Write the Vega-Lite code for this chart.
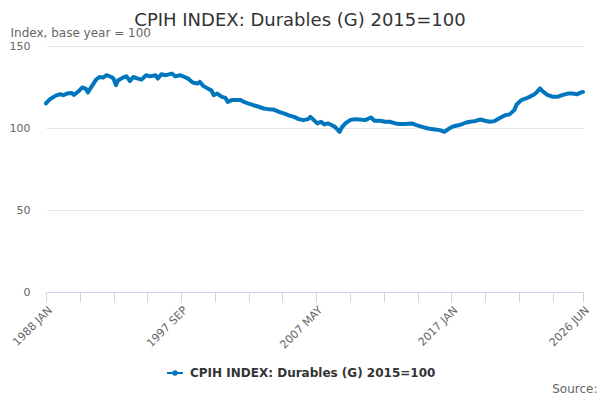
{
  "$schema": "https://vega.github.io/schema/vega-lite/v6.json",
  "width": 537,
  "height": 246,
  "autosize": {"type": "none"},
  "padding": {"left": 46, "top": 46, "right": 17, "bottom": 108},
  "background": "white",
  "config": {"view": {"stroke": null}, "font": "DejaVu Sans"},
  "title": {
    "text": "CPIH INDEX: Durables (G) 2015=100",
    "anchor": "middle",
    "frame": "group",
    "dx": -14.5,
    "dy": 21,
    "baseline": "alphabetic",
    "offset": 3,
    "fontSize": 18,
    "fontWeight": "normal",
    "color": "#333333",
    "font": "DejaVu Sans"
  },
  "data": {
    "values": [
      {"d": "1988-01-01", "v": 115.0},
      {"d": "1988-04-01", "v": 117.4},
      {"d": "1988-09-01", "v": 119.6},
      {"d": "1989-01-01", "v": 120.6},
      {"d": "1989-04-01", "v": 120.0},
      {"d": "1989-07-01", "v": 121.0},
      {"d": "1989-11-01", "v": 121.4},
      {"d": "1990-01-01", "v": 120.2},
      {"d": "1990-05-01", "v": 122.4},
      {"d": "1990-08-01", "v": 124.7},
      {"d": "1990-11-01", "v": 124.0},
      {"d": "1991-01-01", "v": 121.6},
      {"d": "1991-04-01", "v": 125.1},
      {"d": "1991-08-01", "v": 129.5},
      {"d": "1991-11-01", "v": 131.1},
      {"d": "1992-02-01", "v": 130.7},
      {"d": "1992-05-01", "v": 132.2},
      {"d": "1992-09-01", "v": 131.1},
      {"d": "1992-11-01", "v": 130.1},
      {"d": "1993-01-01", "v": 126.1},
      {"d": "1993-03-01", "v": 129.1},
      {"d": "1993-07-01", "v": 130.7},
      {"d": "1993-10-01", "v": 131.5},
      {"d": "1994-01-01", "v": 128.7},
      {"d": "1994-04-01", "v": 131.1},
      {"d": "1994-08-01", "v": 130.1},
      {"d": "1994-11-01", "v": 129.5},
      {"d": "1995-03-01", "v": 132.2},
      {"d": "1995-06-01", "v": 131.5},
      {"d": "1995-11-01", "v": 132.2},
      {"d": "1996-01-01", "v": 130.1},
      {"d": "1996-04-01", "v": 132.8},
      {"d": "1996-08-01", "v": 132.2},
      {"d": "1997-01-01", "v": 133.2},
      {"d": "1997-04-01", "v": 131.5},
      {"d": "1997-08-01", "v": 132.2},
      {"d": "1997-12-01", "v": 131.1},
      {"d": "1998-03-01", "v": 130.1},
      {"d": "1998-07-01", "v": 127.7},
      {"d": "1998-11-01", "v": 127.1},
      {"d": "1999-01-01", "v": 128.1},
      {"d": "1999-04-01", "v": 125.7},
      {"d": "1999-09-01", "v": 123.6},
      {"d": "1999-11-01", "v": 123.0},
      {"d": "2000-01-01", "v": 120.0},
      {"d": "2000-04-01", "v": 121.0},
      {"d": "2000-08-01", "v": 119.0},
      {"d": "2000-11-01", "v": 118.4},
      {"d": "2001-01-01", "v": 115.9},
      {"d": "2001-05-01", "v": 117.1},
      {"d": "2001-09-01", "v": 117.0},
      {"d": "2001-12-01", "v": 117.1},
      {"d": "2002-03-01", "v": 115.9},
      {"d": "2002-07-01", "v": 114.9},
      {"d": "2002-11-01", "v": 113.9},
      {"d": "2003-03-01", "v": 113.1},
      {"d": "2003-08-01", "v": 111.9},
      {"d": "2003-12-01", "v": 111.5},
      {"d": "2004-04-01", "v": 111.3},
      {"d": "2004-09-01", "v": 109.8},
      {"d": "2005-01-01", "v": 108.9},
      {"d": "2005-05-01", "v": 107.8},
      {"d": "2005-10-01", "v": 106.8},
      {"d": "2006-02-01", "v": 105.4},
      {"d": "2006-06-01", "v": 104.8},
      {"d": "2006-10-01", "v": 105.4},
      {"d": "2006-12-01", "v": 106.8},
      {"d": "2007-03-01", "v": 104.8},
      {"d": "2007-06-01", "v": 102.8},
      {"d": "2007-09-01", "v": 103.8},
      {"d": "2007-12-01", "v": 102.2},
      {"d": "2008-03-01", "v": 102.8},
      {"d": "2008-06-01", "v": 101.8},
      {"d": "2008-09-01", "v": 100.7},
      {"d": "2009-01-01", "v": 97.7},
      {"d": "2009-03-01", "v": 100.4},
      {"d": "2009-06-01", "v": 102.8},
      {"d": "2009-10-01", "v": 104.8},
      {"d": "2010-02-01", "v": 105.4},
      {"d": "2010-06-01", "v": 105.2},
      {"d": "2010-11-01", "v": 104.8},
      {"d": "2011-04-01", "v": 106.4},
      {"d": "2011-07-01", "v": 104.4},
      {"d": "2011-12-01", "v": 104.4},
      {"d": "2012-04-01", "v": 103.8},
      {"d": "2012-08-01", "v": 103.8},
      {"d": "2013-01-01", "v": 102.8},
      {"d": "2013-05-01", "v": 102.4},
      {"d": "2013-09-01", "v": 102.4},
      {"d": "2014-03-01", "v": 102.8},
      {"d": "2014-07-01", "v": 101.8},
      {"d": "2014-12-01", "v": 100.7},
      {"d": "2015-05-01", "v": 99.7},
      {"d": "2015-11-01", "v": 99.1},
      {"d": "2016-03-01", "v": 98.7},
      {"d": "2016-07-01", "v": 97.7},
      {"d": "2016-10-01", "v": 99.1},
      {"d": "2016-12-01", "v": 100.1},
      {"d": "2017-03-01", "v": 101.1},
      {"d": "2017-08-01", "v": 101.8},
      {"d": "2018-01-01", "v": 103.2},
      {"d": "2018-05-01", "v": 103.8},
      {"d": "2018-09-01", "v": 104.2},
      {"d": "2019-02-01", "v": 105.2},
      {"d": "2019-06-01", "v": 104.4},
      {"d": "2019-10-01", "v": 103.8},
      {"d": "2020-02-01", "v": 104.2},
      {"d": "2020-07-01", "v": 106.2},
      {"d": "2020-11-01", "v": 107.8},
      {"d": "2021-03-01", "v": 108.3},
      {"d": "2021-07-01", "v": 110.9},
      {"d": "2021-09-01", "v": 114.3},
      {"d": "2022-01-01", "v": 117.0},
      {"d": "2022-05-01", "v": 118.0},
      {"d": "2022-08-01", "v": 119.0},
      {"d": "2022-12-01", "v": 120.4},
      {"d": "2023-02-01", "v": 121.6},
      {"d": "2023-05-01", "v": 124.1},
      {"d": "2023-08-01", "v": 122.0},
      {"d": "2023-11-01", "v": 120.4},
      {"d": "2024-04-01", "v": 119.0},
      {"d": "2024-08-01", "v": 119.0},
      {"d": "2024-12-01", "v": 120.0},
      {"d": "2025-05-01", "v": 121.0},
      {"d": "2025-09-01", "v": 121.0},
      {"d": "2026-01-01", "v": 120.6},
      {"d": "2026-04-01", "v": 121.6},
      {"d": "2026-06-01", "v": 122.0}
    ]
  },
  "mark": {"type": "line", "strokeWidth": 4, "strokeJoin": "round", "strokeCap": "round"},
  "encoding": {
    "x": {
      "field": "d",
      "type": "temporal",
      "scale": {
        "type": "utc",
        "nice": false,
        "domain": [
          {"year": 1988, "month": 1, "date": 1, "utc": true},
          {"year": 2026, "month": 6, "date": 1, "utc": true}
        ]
      },
      "axis": {
        "values": [
          {"year": 1988, "month": 1, "date": 1, "utc": true},
          {"year": 1990, "month": 6, "date": 1, "utc": true},
          {"year": 1992, "month": 11, "date": 1, "utc": true},
          {"year": 1995, "month": 4, "date": 1, "utc": true},
          {"year": 1997, "month": 9, "date": 1, "utc": true},
          {"year": 2000, "month": 2, "date": 1, "utc": true},
          {"year": 2002, "month": 7, "date": 1, "utc": true},
          {"year": 2004, "month": 12, "date": 1, "utc": true},
          {"year": 2007, "month": 5, "date": 1, "utc": true},
          {"year": 2009, "month": 10, "date": 1, "utc": true},
          {"year": 2012, "month": 3, "date": 1, "utc": true},
          {"year": 2014, "month": 8, "date": 1, "utc": true},
          {"year": 2017, "month": 1, "date": 1, "utc": true},
          {"year": 2019, "month": 6, "date": 1, "utc": true},
          {"year": 2021, "month": 11, "date": 1, "utc": true},
          {"year": 2024, "month": 4, "date": 1, "utc": true},
          {"year": 2026, "month": 6, "date": 1, "utc": true}
        ],
        "labelExpr": "indexof(['1988-01','1997-09','2007-05','2017-01','2026-06'], utcFormat(datum.value, '%Y-%m')) >= 0 ? upper(utcFormat(datum.value, '%Y %b')) : ''",
        "labelAngle": -45,
        "labelFlush": false,
        "labelOverlap": false,
        "labelFontSize": 11,
        "labelColor": "#666666",
        "labelFont": "DejaVu Sans",
        "grid": false,
        "domainColor": "#ccd6eb",
        "tickColor": "#ccd6eb",
        "tickSize": 10,
        "title": "Source:",
        "titleX": 551,
        "titleY": 100,
        "titleAlign": "right",
        "titleBaseline": "alphabetic",
        "titleFontSize": 12,
        "titleFontWeight": "normal",
        "titleColor": "#666666",
        "titleFont": "DejaVu Sans"
      }
    },
    "y": {
      "field": "v",
      "type": "quantitative",
      "scale": {"domain": [0, 150], "nice": false, "zero": true},
      "axis": {
        "values": [0, 50, 100, 150],
        "grid": true,
        "gridColor": "#e6e6e6",
        "domain": false,
        "ticks": false,
        "labelPadding": 16,
        "labelFontSize": 11,
        "labelColor": "#666666",
        "labelFont": "DejaVu Sans",
        "title": "Index, base year = 100",
        "titleAngle": 0,
        "titleAlign": "left",
        "titleBaseline": "alphabetic",
        "titleX": -36,
        "titleY": -10,
        "titleFontSize": 12,
        "titleFontWeight": "normal",
        "titleColor": "#666666",
        "titleFont": "DejaVu Sans"
      }
    },
    "color": {
      "datum": "CPIH INDEX: Durables (G) 2015=100",
      "type": "nominal",
      "scale": {"range": ["#0076bf"]},
      "legend": {
        "orient": "none",
        "legendX": 120,
        "legendY": 318,
        "title": null,
        "symbolType": "M-1,0L1,0M0.22,0A0.22,0.22,0,1,1,-0.22,0A0.22,0.22,0,1,1,0.22,0Z",
        "symbolSize": 256,
        "symbolStrokeWidth": 2,
        "symbolFillColor": "#0076bf",
        "symbolStrokeColor": "#0076bf",
        "labelFontSize": 12,
        "labelFontWeight": "bold",
        "labelColor": "#333333",
        "labelFont": "DejaVu Sans",
        "labelOffset": 6,
        "labelLimit": 400,
        "encode": {"symbols": {"update": {"fill": {"value": "#0076bf"}, "stroke": {"value": "#0076bf"}}}}
      }
    }
  }
}
